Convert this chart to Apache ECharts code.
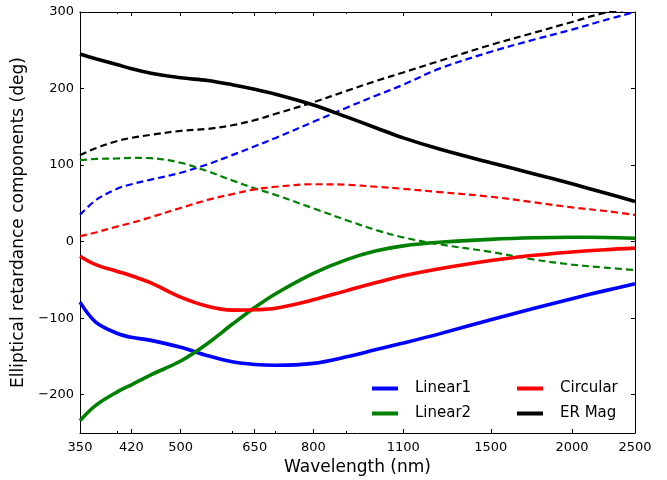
<!DOCTYPE html>
<html>
<head>
<meta charset="utf-8">
<script src="https://cdn.jsdelivr.net/npm/echarts@6/dist/echarts.min.js"></script>
<style>
  html, body { margin: 0; padding: 0; background: #ffffff; }
  #chart { width: 667px; height: 480px; }
</style>
</head>
<body>
<div id="chart"></div>
<script>
// Sample wavelengths (nm)
const wavelengths = [350, 370, 400, 420, 450, 500, 550, 600, 650, 700, 800, 900, 1000, 1100, 1250, 1500, 1750, 2000, 2250, 2500];

// Measured elliptical retardance components (deg), solid curves
const linear1  = [-79, -105, -120, -125, -129, -138, -149, -157, -160.5, -161.5, -159, -150.5, -141, -132.5, -120.5, -102, -87, -74.5, -64, -55];
const linear2  = [-234, -214, -196, -187, -174, -156, -133, -108, -86, -68, -41.5, -23.5, -12, -5.5, -0.8, 3, 5, 5.7, 5.5, 4.5];
const circular = [-19, -30, -39, -44.5, -54, -72.5, -84.5, -89.5, -89, -87, -76, -64, -53.5, -44.7, -35.5, -24.7, -17.8, -13.5, -10.5, -8.5];
const erMag    = [245, 239, 231, 226, 220, 214, 210.5, 205, 199, 192.5, 178.5, 163, 148.5, 135.5, 121, 103, 88.5, 75.5, 63.5, 52.5];

// Second set of components, dashed curves
const linear1B  = [35, 54, 69.5, 75, 81, 90, 101, 113, 124.5, 135.5, 156.5, 175, 191, 205, 226, 248, 264, 277, 289.5, 300];
const linear2B  = [106.5, 108, 108.7, 109.5, 109, 103, 92, 80, 69.6, 61, 43.5, 28, 15, 5.5, -3.5, -13.4, -23.5, -30, -34, -37];
const circularB = [7, 12, 20, 24.5, 32, 44, 54.5, 62, 68.3, 71.7, 75, 74.3, 71.7, 69, 64.8, 58.7, 51.3, 44.8, 40, 35];
const erMagB    = [113, 122, 131.7, 135.6, 139.5, 144.7, 147.3, 152, 158.7, 167, 182, 197, 210, 221, 236, 257, 273, 287, 299, 304];

// Axis ticks
const xTickValues  = [350, 420, 500, 650, 800, 1100, 1500, 2000, 2500];
const xMinorTicks  = [400, 600, 700, 900];
const yTickValues  = [-200, -100, 0, 100, 200, 300];

const FONT = 'DejaVu Sans';
const BLACK = '#000000';

function pairs(vals) {
  return wavelengths.map((w, i) => [w, vals[i]]);
}

function xAxisDef(position, ticks, len, withLabels) {
  const ax = {
    type: 'log',
    logBase: 10,
    min: 350,
    max: 2500,
    gridIndex: 0,
    position: position,
    axisLine: { show: withLabels || position === 'top', onZero: false, lineStyle: { color: BLACK, width: 1 } },
    axisTick: { show: true, inside: true, length: len, customValues: ticks, lineStyle: { color: BLACK, width: 1 } },
    axisLabel: { show: false },
    splitLine: { show: false },
    minorTick: { show: false },
    minorSplitLine: { show: false }
  };
  if (withLabels && position === 'bottom') {
    ax.axisLabel = {
      show: true,
      customValues: ticks,
      formatter: v => String(Math.round(v)),
      fontSize: 13,
      fontFamily: FONT,
      color: BLACK,
      margin: 8
    };
    ax.name = 'Wavelength (nm)';
    ax.nameLocation = 'middle';
    ax.nameGap = 26;
    ax.nameTextStyle = { fontSize: 17, fontFamily: FONT, color: BLACK };
  }
  return ax;
}

function solid(name, color, vals) {
  return {
    name: name, type: 'line', xAxisIndex: 0, yAxisIndex: 0,
    data: pairs(vals), showSymbol: false, symbol: 'none', smooth: 0.35,
    color: color,
    lineStyle: { color: color, width: 3.6, type: 'solid', cap: 'butt' },
    emphasis: { disabled: true }, z: 3
  };
}

function dashed(name, color, vals) {
  return {
    name: name, type: 'line', xAxisIndex: 0, yAxisIndex: 0,
    data: pairs(vals), showSymbol: false, symbol: 'none', smooth: 0.35,
    color: color,
    lineStyle: { color: color, width: 2.2, type: [7, 4], cap: 'butt' },
    emphasis: { disabled: true }, z: 2
  };
}

const legendText = { fontSize: 15, fontFamily: FONT, color: BLACK, lineHeight: 17, padding: [0, 0, 0, 12] };

const option = {
  animation: false,
  backgroundColor: '#ffffff',
  grid: { left: 80, right: 32, top: 12, bottom: 47, containLabel: false, outerBoundsMode: 'none' },
  xAxis: [
    xAxisDef('bottom', xTickValues, 4, true),
    xAxisDef('bottom', xMinorTicks, 2, false),
    xAxisDef('top', xTickValues, 4, false),
    xAxisDef('top', xMinorTicks, 2, false)
  ],
  yAxis: [
    {
      type: 'value', min: -250, max: 300, position: 'left',
      axisLine: { show: true, onZero: false, lineStyle: { color: BLACK, width: 1 } },
      axisTick: { show: true, inside: true, length: 4, customValues: yTickValues, lineStyle: { color: BLACK } },
      axisLabel: { customValues: yTickValues, fontSize: 13, fontFamily: FONT, color: BLACK, margin: 6,
                   formatter: v => (v < 0 ? '\u2212' + Math.abs(v) : String(v)) },
      splitLine: { show: false },
      name: 'Elliptical retardance components (deg)',
      nameLocation: 'middle', nameGap: 44,
      nameTextStyle: { fontSize: 17, fontFamily: FONT, color: BLACK }
    },
    {
      type: 'value', min: -250, max: 300, position: 'right',
      axisLine: { show: true, onZero: false, lineStyle: { color: BLACK, width: 1 } },
      axisTick: { show: true, inside: true, length: 4, customValues: yTickValues, lineStyle: { color: BLACK } },
      axisLabel: { show: false },
      splitLine: { show: false }
    }
  ],
  legend: [
    {
      data: ['Linear1', 'Linear2'], orient: 'vertical', left: 372, top: 380, padding: 0,
      icon: 'rect', itemWidth: 26, itemHeight: 4, itemGap: 8,
      textStyle: legendText, selectedMode: false
    },
    {
      data: ['Circular', 'ER Mag'], orient: 'vertical', left: 517, top: 380, padding: 0,
      icon: 'rect', itemWidth: 26, itemHeight: 4, itemGap: 8,
      textStyle: legendText, selectedMode: false
    }
  ],
  series: [
    dashed('Linear1 set 2', '#0000ff', linear1B),
    dashed('Linear2 set 2', '#008000', linear2B),
    dashed('Circular set 2', '#ff0000', circularB),
    dashed('ER Mag set 2', '#000000', erMagB),
    solid('Linear1', '#0000ff', linear1),
    solid('Linear2', '#008000', linear2),
    solid('Circular', '#ff0000', circular),
    solid('ER Mag', '#000000', erMag)
  ]
};

const chart = echarts.init(document.getElementById('chart'), null, { renderer: 'canvas' });
chart.setOption(option);
</script>
</body>
</html>
